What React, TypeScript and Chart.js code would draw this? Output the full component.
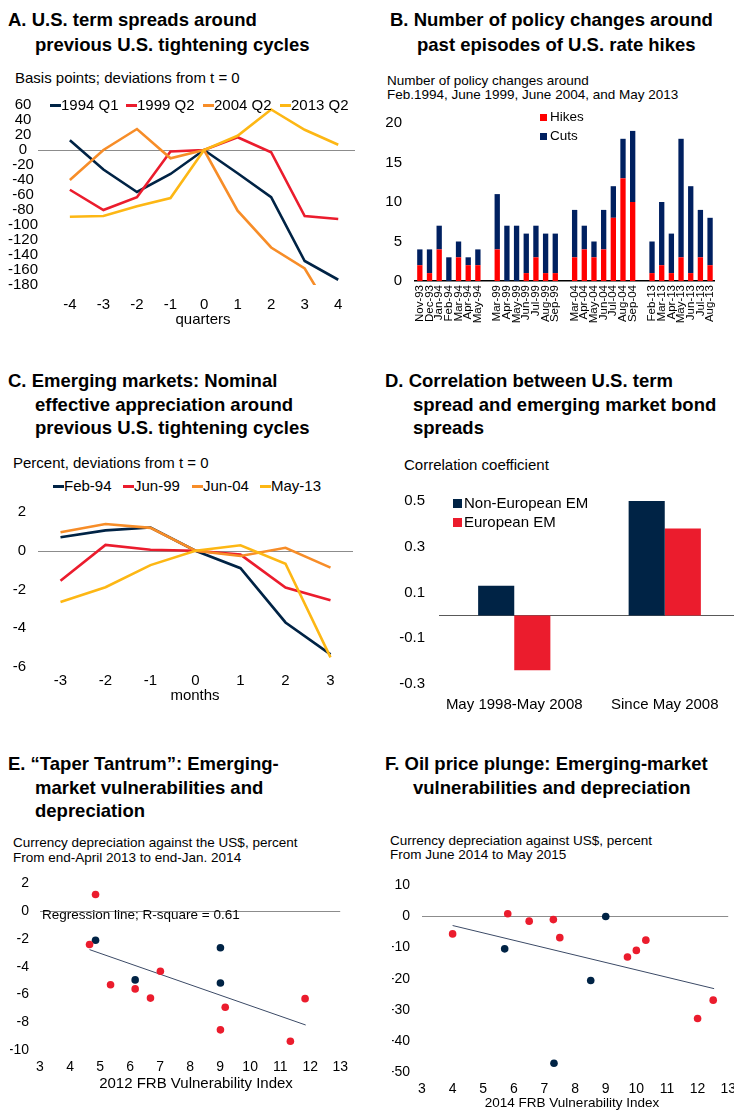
import React, { useEffect, useRef } from "react";
import { Chart, registerables } from "chart.js";
Chart.register(...registerables);

const FONT = "'Liberation Sans', Arial, Helvetica, sans-serif";
const NAVY = "#002345";
const RED = "#EB1C2D";
const ORANGE = "#F78D28";
const YELLOW = "#FDB714";
const B_RED = "#FF0000";
const B_NAVY = "#002060";

// ---------- Panel A data ----------
const quartersA = [-4, -3, -2, -1, 0, 1, 2, 3, 4];
const a1994Q1 = [13, -26, -56, -32, 0, -31, -63, -148, -173];
const a1999Q2 = [-53, -80, -63, -2, 0, 17, -3, -88, -92];
const a2004Q2 = [-40, 0, 28, -11, 0, -81, -130, -158, -232];
const a2013Q2 = [-89, -88, -75, -64, 0, 19, 54, 27, 7];

// ---------- Panel B data ----------
const monthsB = [
  "Nov-93", "Dec-93", "Jan-94", "Feb-94", "Mar-94", "Apr-94", "May-94", "",
  "Mar-99", "Apr-99", "May-99", "Jun-99", "Jul-99", "Aug-99", "Sep-99", "",
  "Mar-04", "Apr-04", "May-04", "Jun-04", "Jul-04", "Aug-04", "Sep-04", "",
  "Feb-13", "Mar-13", "Apr-13", "May-13", "Jun-13", "Jul-13", "Aug-13",
];
const hikesB = [2, 1, 4, 0, 3, 2, 2, null, 4, 0, 0, 1, 3, 1, 1, null, 3, 4, 3, 4, 8, 13, 10, null, 1, 2, 1, 3, 1, 3, 2];
const cutsB = [2, 3, 3, 3, 2, 1, 2, null, 7, 7, 7, 5, 4, 5, 5, null, 6, 3, 2, 5, 4, 5, 9, null, 4, 8, 5, 15, 11, 6, 6];

// ---------- Panel C data ----------
const monthsC = ["-3", "-2", "-1", "0", "1", "2", "3"];
const cFeb94 = [0.7, 1.05, 1.2, 0, -0.9, -3.7, -5.35];
const cJun99 = [-1.55, 0.3, 0.05, 0, -0.2, -1.9, -2.55];
const cJun04 = [0.95, 1.38, 1.18, 0, -0.27, 0.15, -0.87];
const cMay13 = [-2.65, -1.88, -0.74, 0, 0.28, -0.67, -5.5];

// ---------- Panel D data ----------
const periodsD = ["May 1998-May 2008", "Since May 2008"];
const dNonEuropean = [0.13, 0.5];
const dEuropean = [-0.24, 0.38];
const yTicksD = [-0.3, -0.1, 0.1, 0.3, 0.5];

// ---------- Panel E data ----------
const eRedX = [4.85, 4.65, 5.35, 6.17, 6.68, 7.01, 9.01, 9.17, 11.34, 11.83];
const eRedY = [1.2, -2.4, -5.3, -5.6, -6.26, -4.33, -8.55, -6.92, -9.37, -6.3];
const eNavyX = [4.85, 6.17, 9.01, 9.01];
const eNavyY = [-2.1, -4.95, -2.63, -5.17];
const eRegX = [4.65, 11.85];
const eRegY = [-2.77, -8.2];

// ---------- Panel F data ----------
const fRedX = [4.0, 5.8, 6.5, 7.29, 7.5, 9.71, 10.0, 10.31, 12.0, 12.51];
const fRedY = [-5.6, 0.9, -1.5, -1.0, -6.8, -13.0, -10.9, -7.6, -32.8, -26.9];
const fNavyX = [5.7, 9.0, 8.51, 7.31];
const fNavyY = [-10.4, 0, -20.6, -47.2];
const fRegX = [4.0, 12.54];
const fRegY = [-2.9, -23.2];

const pts = (xs: number[], ys: number[]) => xs.map((x, i) => ({ x, y: ys[i] }));

const zeroLine = {
  id: "zeroLine",
  beforeDatasetsDraw(chart: any, _args: any, opts: any) {
    if (!opts || !opts.color) return;
    const y = Math.round(chart.scales.y.getPixelForValue(0)) + 0.5;
    const { left, right } = chart.chartArea;
    const ctx = chart.ctx;
    ctx.save();
    ctx.strokeStyle = opts.color;
    ctx.lineWidth = opts.width || 1;
    ctx.beginPath();
    ctx.moveTo(left, y);
    ctx.lineTo(right, y);
    ctx.stroke();
    ctx.restore();
  },
};

type Area = { L: number; T: number; R: number; B: number };

function ChartBox(props: { area: Area; yW: number; padTop: number; padRight: number; xH: number; build: () => any }) {
  const { area, yW, padRight, xH, build } = props;
  const ref = useRef<HTMLCanvasElement>(null);
  const left = Math.round(area.L - yW);
  const top = Math.round(area.T - props.padTop);
  const padTop = area.T - top;
  const width = Math.round(area.R + padRight - left);
  const height = Math.round(area.B + xH - top);
  useEffect(() => {
    const cfg = build();
    cfg.options = cfg.options || {};
    cfg.options.responsive = false;
    cfg.options.maintainAspectRatio = false;
    cfg.options.animation = false;
    cfg.options.devicePixelRatio = 1;
    cfg.options.layout = { padding: { top: padTop, right: width - (area.R - left), left: 0, bottom: 0 }, autoPadding: false };
    cfg.options.plugins = Object.assign({ legend: { display: false }, tooltip: { enabled: false }, title: { display: false } }, cfg.options.plugins || {});
    cfg.options.scales.y.afterFit = (s: any) => { s.width = area.L - left; };
    cfg.options.scales.x.afterFit = (s: any) => { s.height = xH; };
    cfg.plugins = [zeroLine];
    const chart = new Chart(ref.current as HTMLCanvasElement, cfg);
    return () => chart.destroy();
  }, []);
  return <canvas ref={ref} width={width} height={height} style={{ position: "absolute", left, top, width, height }} />;
}

function Txt(props: { x: number; y: number; size: number; bold?: boolean; center?: boolean; children: any }) {
  const { x, y, size, bold, center, children } = props;
  const lh = Math.round(size * 1.2);
  return (
    <div
      style={{
        position: "absolute", left: x, top: y - lh / 2, fontSize: size, lineHeight: lh + "px",
        fontWeight: bold ? 700 : 400, whiteSpace: "nowrap", transform: center ? "translateX(-50%)" : undefined,
      }}
    >
      {children}
    </div>
  );
}

function LineKey(props: { x: number; y: number; color: string; label: string; size: number }) {
  return (
    <>
      <div style={{ position: "absolute", left: props.x, top: props.y - 1.5, width: 11, height: 3, background: props.color }} />
      <Txt x={props.x + 11} y={props.y} size={props.size}>{props.label}</Txt>
    </>
  );
}

function BoxKey(props: { x: number; y: number; color: string; label: string; size: number; box: number; gap: number }) {
  return (
    <>
      <div style={{ position: "absolute", left: props.x, top: props.y - props.box / 2, width: props.box, height: props.box, background: props.color }} />
      <Txt x={props.x + props.box + props.gap} y={props.y} size={props.size}>{props.label}</Txt>
    </>
  );
}

const tickFont = (size: number) => ({ family: FONT, size });

const linY = (min: number, max: number, step: number, size: number, pad: number, extra: any = {}) => ({
  type: "linear", min, max,
  ticks: { stepSize: step, padding: pad, color: "#000", font: tickFont(size), autoSkip: false, ...(extra.ticks || {}) },
  grid: { display: false, drawTicks: false },
  border: { display: false },
  ...(extra.rest || {}),
});

function lineDs(label: string, data: any[], color: string) {
  return { label, data, borderColor: color, backgroundColor: color, borderWidth: 2.6, pointRadius: 0, tension: 0, fill: false };
}

const buildA = () => ({
  type: "line",
  data: {
    datasets: [
      lineDs("1994 Q1", pts(quartersA, a1994Q1), NAVY),
      lineDs("1999 Q2", pts(quartersA, a1999Q2), RED),
      lineDs("2004 Q2", pts(quartersA, a2004Q2), ORANGE),
      lineDs("2013 Q2", pts(quartersA, a2013Q2), YELLOW),
    ].reverse(),
  },
  options: {
    plugins: { zeroLine: { color: "#8c8c8c", width: 1 } },
    scales: {
      x: {
        type: "linear", min: -4.95, max: 4.5,
        afterBuildTicks: (s: any) => { s.ticks = quartersA.map((v) => ({ value: v })); },
        ticks: { padding: 11, color: "#000", font: tickFont(15), autoSkip: false, maxRotation: 0 },
        grid: { display: false, drawTicks: false }, border: { display: false },
      },
      y: linY(-180, 60, 20, 15, 0, { ticks: { crossAlign: "center" } }),
    },
  },
});

const buildB = () => ({
  type: "bar",
  data: {
    labels: monthsB,
    datasets: [
      { label: "Hikes", data: hikesB, backgroundColor: B_RED, categoryPercentage: 1, barPercentage: 0.55 },
      { label: "Cuts", data: cutsB, backgroundColor: B_NAVY, categoryPercentage: 1, barPercentage: 0.55 },
    ],
  },
  options: {
    scales: {
      x: {
        type: "category", stacked: true,
        ticks: { padding: 4, color: "#000", font: tickFont(11.5), autoSkip: false, minRotation: 90, maxRotation: 90 },
        grid: { display: false, drawTicks: false }, border: { display: true, color: "#000", width: 1.5 },
      },
      y: { ...linY(0, 20, 5, 15, 13), stacked: true },
    },
  },
});

const buildC = () => ({
  type: "line",
  data: {
    labels: monthsC,
    datasets: [
      lineDs("Feb-94", cFeb94, NAVY),
      lineDs("Jun-99", cJun99, RED),
      lineDs("Jun-04", cJun04, ORANGE),
      lineDs("May-13", cMay13, YELLOW),
    ].reverse(),
  },
  options: {
    plugins: { zeroLine: { color: "#8c8c8c", width: 1 } },
    scales: {
      x: {
        type: "category", offset: true,
        ticks: { padding: 5, color: "#000", font: tickFont(15), autoSkip: false, maxRotation: 0 },
        grid: { display: false, drawTicks: false }, border: { display: false },
      },
      y: linY(-6, 2, 2, 15, 12),
    },
  },
});

const buildD = () => ({
  type: "bar",
  data: {
    labels: periodsD,
    datasets: [
      { label: "Non-European EM", data: dNonEuropean, backgroundColor: NAVY, categoryPercentage: 0.48, barPercentage: 1 },
      { label: "European EM", data: dEuropean, backgroundColor: RED, categoryPercentage: 0.48, barPercentage: 1 },
    ],
  },
  options: {
    plugins: { zeroLine: { color: "#595959", width: 1.2 } },
    scales: {
      x: {
        type: "category",
        ticks: { padding: 12, color: "#000", font: tickFont(15), autoSkip: false, maxRotation: 0 },
        grid: { display: false, drawTicks: false }, border: { display: false },
      },
      y: linY(-0.3, 0.5, 0.2, 15, 14, {
        ticks: { callback: (v: any) => Number(v).toFixed(1) },
        rest: { afterBuildTicks: (s: any) => { s.ticks = yTicksD.map((v) => ({ value: v })); } },
      }),
    },
  },
});

const scatterDs = (label: string, data: any[], color: string) => ({
  type: "scatter", label, data, backgroundColor: color, borderColor: color, pointRadius: 3.8, borderWidth: 0, showLine: false,
});

const regDs = (data: any[]) => ({
  type: "line", label: "Regression line", data, borderColor: "#3b4a66", borderWidth: 1, pointRadius: 0, showLine: true, fill: false, tension: 0,
});

const buildE = () => ({
  type: "scatter",
  data: {
    datasets: [
      scatterDs("Red", pts(eRedX, eRedY), RED),
      scatterDs("Navy", pts(eNavyX, eNavyY), NAVY),
      regDs(pts(eRegX, eRegY)),
    ],
  },
  options: {
    plugins: { zeroLine: { color: "#8c8c8c", width: 1 } },
    scales: {
      x: {
        type: "linear", min: 3, max: 13,
        ticks: { stepSize: 1, padding: 9, color: "#000", font: tickFont(14), autoSkip: false, maxRotation: 0 },
        grid: { display: false, drawTicks: false }, border: { display: false },
      },
      y: linY(-10, 2, 2, 14, 11),
    },
  },
});

const buildF = () => ({
  type: "scatter",
  data: {
    datasets: [
      scatterDs("Red", pts(fRedX, fRedY), RED),
      scatterDs("Navy", pts(fNavyX, fNavyY), NAVY),
      regDs(pts(fRegX, fRegY)),
    ],
  },
  options: {
    plugins: { zeroLine: { color: "#8c8c8c", width: 1 } },
    scales: {
      x: {
        type: "linear", min: 3, max: 13,
        ticks: { stepSize: 1, padding: 9, color: "#000", font: tickFont(14), autoSkip: false, maxRotation: 0 },
        grid: { display: false, drawTicks: false }, border: { display: false },
      },
      y: linY(-50, 10, 10, 14, 12),
    },
  },
});

export default function App() {
  const TS = 18.5;
  return (
    <div
      style={{
        position: "absolute", left: 0, top: 0, width: 734, height: 1111, overflow: "hidden",
        background: "#fff", fontFamily: FONT, color: "#000",
      }}
    >
      {/* Panel A */}
      <Txt x={8} y={20} size={TS} bold>A. U.S. term spreads around</Txt>
      <Txt x={35} y={45} size={TS} bold>previous U.S. tightening cycles</Txt>
      <Txt x={15} y={78} size={15}>Basis points; deviations from t = 0</Txt>
      <ChartBox area={{ L: 38, T: 105, R: 355, B: 285 }} yW={30} padTop={10} padRight={6} xH={30} build={buildA} />
      <LineKey x={50} y={105} color={NAVY} label="1994 Q1" size={15} />
      <LineKey x={126} y={105} color={RED} label="1999 Q2" size={15} />
      <LineKey x={203} y={105} color={ORANGE} label="2004 Q2" size={15} />
      <LineKey x={280} y={105} color={YELLOW} label="2013 Q2" size={15} />
      <Txt x={203} y={319} size={15} center>quarters</Txt>

      {/* Panel B */}
      <Txt x={390} y={20} size={TS} bold>B. Number of policy changes around</Txt>
      <Txt x={417} y={45} size={TS} bold>past episodes of U.S. rate hikes</Txt>
      <Txt x={387} y={81} size={13.5}>Number of policy changes around</Txt>
      <Txt x={387} y={95} size={13.5}>Feb.1994, June 1999, June 2004, and May 2013</Txt>
      <ChartBox area={{ L: 415, T: 110.5, R: 720, B: 281 }} yW={32} padTop={10} padRight={8} xH={60} build={buildB} />
      <BoxKey x={540} y={117} color={B_RED} label="Hikes" size={13.5} box={7} gap={3} />
      <BoxKey x={540} y={136} color={B_NAVY} label="Cuts" size={13.5} box={7} gap={3} />

      {/* Panel C */}
      <Txt x={8} y={381} size={TS} bold>C. Emerging markets: Nominal</Txt>
      <Txt x={35} y={405} size={TS} bold>effective appreciation around</Txt>
      <Txt x={35} y={428} size={TS} bold>previous U.S. tightening cycles</Txt>
      <Txt x={13} y={463} size={15}>Percent, deviations from t = 0</Txt>
      <LineKey x={53} y={486} color={NAVY} label="Feb-94" size={15} />
      <LineKey x={123} y={486} color={RED} label="Jun-99" size={15} />
      <LineKey x={192} y={486} color={ORANGE} label="Jun-04" size={15} />
      <LineKey x={260} y={486} color={YELLOW} label="May-13" size={15} />
      <ChartBox area={{ L: 38, T: 500.7, R: 353, B: 666.7 }} yW={30} padTop={10} padRight={6} xH={22} build={buildC} />
      <Txt x={195} y={695} size={15} center>months</Txt>

      {/* Panel D */}
      <Txt x={385} y={381} size={TS} bold>D. Correlation between U.S. term</Txt>
      <Txt x={413} y={405} size={TS} bold>spread and emerging market bond</Txt>
      <Txt x={413} y={428} size={TS} bold>spreads</Txt>
      <Txt x={404} y={465} size={15}>Correlation coefficient</Txt>
      <ChartBox area={{ L: 439, T: 488.3, R: 740, B: 684.3 }} yW={46} padTop={10} padRight={4} xH={30} build={buildD} />
      <BoxKey x={453} y={503} color={NAVY} label="Non-European EM" size={15} box={9} gap={2} />
      <BoxKey x={453} y={522} color={RED} label="European EM" size={15} box={9} gap={2} />

      {/* Panel E */}
      <Txt x={8} y={764} size={TS} bold>E. “Taper Tantrum”: Emerging-</Txt>
      <Txt x={35} y={788} size={TS} bold>market vulnerabilities and</Txt>
      <Txt x={35} y={811} size={TS} bold>depreciation</Txt>
      <Txt x={13} y={843} size={13.5}>Currency depreciation against the US$, percent</Txt>
      <Txt x={13} y={858} size={13.5}>From end-April 2013 to end-Jan. 2014</Txt>
      <ChartBox area={{ L: 40, T: 874.3, R: 345, B: 1050 }} yW={30} padTop={10} padRight={12} xH={26} build={buildE} />
      <Txt x={42} y={915} size={13.5}>Regression line; R-square = 0.61</Txt>
      <Txt x={196} y={1083} size={15} center>2012 FRB Vulnerability Index</Txt>

      {/* Panel F */}
      <Txt x={385} y={764} size={TS} bold>F. Oil price plunge: Emerging-market</Txt>
      <Txt x={413} y={788} size={TS} bold>vulnerabilities and depreciation</Txt>
      <Txt x={390} y={841} size={13.5}>Currency depreciation against US$, percent</Txt>
      <Txt x={390} y={855} size={13.5}>From June 2014 to May 2015</Txt>
      <ChartBox area={{ L: 422, T: 875, R: 733, B: 1071.7 }} yW={30} padTop={10} padRight={12} xH={26} build={buildF} />
      <Txt x={572} y={1103} size={13.5} center>2014 FRB Vulnerability Index</Txt>
    </div>
  );
}
